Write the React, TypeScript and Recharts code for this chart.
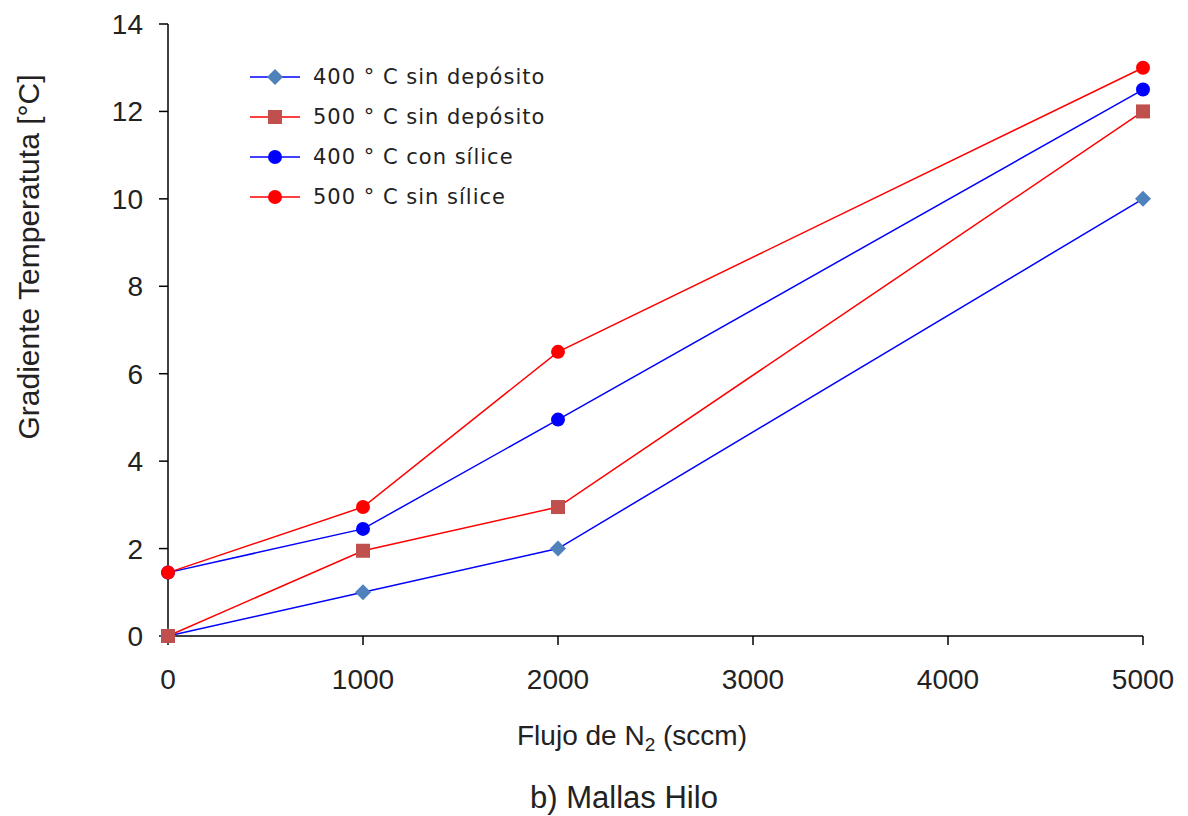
import { LineChart, Line, XAxis, YAxis } from "recharts"

const flujo = [0, 1000, 2000, 5000]
const s400SinDep = [0, 1, 2, 10]
const s500SinDep = [0, 1.95, 2.95, 12]
const s400ConSil = [1.45, 2.45, 4.95, 12.5]
const s500SinSil = [1.45, 2.95, 6.5, 13]
const xTicks = [0, 1000, 2000, 3000, 4000, 5000]
const yTicks = [0, 2, 4, 6, 8, 10, 12, 14]

const data = flujo.map((f, i) => ({
    flujo: f,
    a: s400SinDep[i],
    b: s500SinDep[i],
    c: s400ConSil[i],
    d: s500SinSil[i],
}))

const Diamond = (props: any) => {
    const { cx, cy, index } = props
    if (cx == null || cy == null) return <g key={index} />
    const r = 8
    return <polygon key={index} points={`${cx},${cy - r} ${cx + r},${cy} ${cx},${cy + r} ${cx - r},${cy}`} fill="#4F81BD" />
}

const Square = (props: any) => {
    const { cx, cy, index } = props
    if (cx == null || cy == null) return <g key={index} />
    return <rect key={index} x={cx - 7} y={cy - 7} width={14} height={14} fill="#C0504D" />
}

const Dot = (color: string) => (props: any) => {
    const { cx, cy, index } = props
    if (cx == null || cy == null) return <g key={index} />
    return <circle key={index} cx={cx} cy={cy} r={7} fill={color} />
}

const legendItems = [
    { name: "400 ° C sin depósito", line: "#0000FF", marker: "diamond" },
    { name: "500 ° C sin depósito", line: "#FF0000", marker: "square" },
    { name: "400 ° C con sílice", line: "#0000FF", marker: "blue" },
    { name: "500 ° C sin sílice", line: "#FF0000", marker: "red" },
]

function LegendBox() {
    return (
        <div style={{ position: "absolute", left: 250, top: 57, fontFamily: "DejaVu Sans", fontSize: 21, letterSpacing: 1, color: "#222" }}>
            {legendItems.map((it) => (
                <div key={it.name} style={{ display: "flex", alignItems: "center", height: 40 }}>
                    <svg width={63} height={20}>
                        <line x1={0} y1={10} x2={50} y2={10} stroke={it.line} strokeWidth={1.5} />
                        {it.marker === "diamond" && <polygon points="25,2 33,10 25,18 17,10" fill="#4F81BD" />}
                        {it.marker === "square" && <rect x={18} y={3} width={14} height={14} fill="#C0504D" />}
                        {it.marker === "blue" && <circle cx={25} cy={10} r={7} fill="#0000FF" />}
                        {it.marker === "red" && <circle cx={25} cy={10} r={7} fill="#FF0000" />}
                    </svg>
                    <span>{it.name}</span>
                </div>
            ))}
        </div>
    )
}

export default function App() {
    return (
        <div style={{ position: "absolute", left: 0, top: 0, width: 1188, height: 816, background: "#fff", fontFamily: "Liberation Sans, Arial, sans-serif" }}>
            <LineChart width={1188} height={816} data={data} margin={{ top: 24, right: 45, left: 108, bottom: 140 }}>
                <XAxis
                    dataKey="flujo"
                    type="number"
                    domain={[0, 5000]}
                    ticks={xTicks}
                    height={40}
                    tickSize={9}
                    tickMargin={24}
                    stroke="#000"
                    strokeWidth={1.5}
                    tick={{ fill: "#222", fontSize: 28 }}
                />
                <YAxis
                    type="number"
                    domain={[0, 14]}
                    ticks={yTicks}
                    width={60}
                    tickSize={9}
                    tickMargin={16}
                    stroke="#000"
                    strokeWidth={1.5}
                    tick={{ fill: "#222", fontSize: 28 }}
                />
                <Line dataKey="a" stroke="#0000FF" strokeWidth={1.5} dot={Diamond} isAnimationActive={false} />
                <Line dataKey="b" stroke="#FF0000" strokeWidth={1.5} dot={Square} isAnimationActive={false} />
                <Line dataKey="c" stroke="#0000FF" strokeWidth={1.5} dot={Dot("#0000FF")} isAnimationActive={false} />
                <Line dataKey="d" stroke="#FF0000" strokeWidth={1.5} dot={Dot("#FF0000")} isAnimationActive={false} />
            </LineChart>
            <LegendBox />
            <div style={{ position: "absolute", left: 29, top: 257, transform: "translate(-50%, -50%) rotate(-90deg)", whiteSpace: "nowrap", fontSize: 30, color: "#222" }}>
                Gradiente Temperatuta [°C]
            </div>
            <div style={{ position: "absolute", left: 632, top: 738, transform: "translate(-50%, -50%)", whiteSpace: "nowrap", fontSize: 28, color: "#222" }}>
                Flujo de N<sub style={{ fontSize: 19 }}>2</sub> (sccm)
            </div>
            <div style={{ position: "absolute", left: 624, top: 798, transform: "translate(-50%, -50%)", whiteSpace: "nowrap", fontSize: 31, color: "#222" }}>
                b) Mallas Hilo
            </div>
        </div>
    )
}
